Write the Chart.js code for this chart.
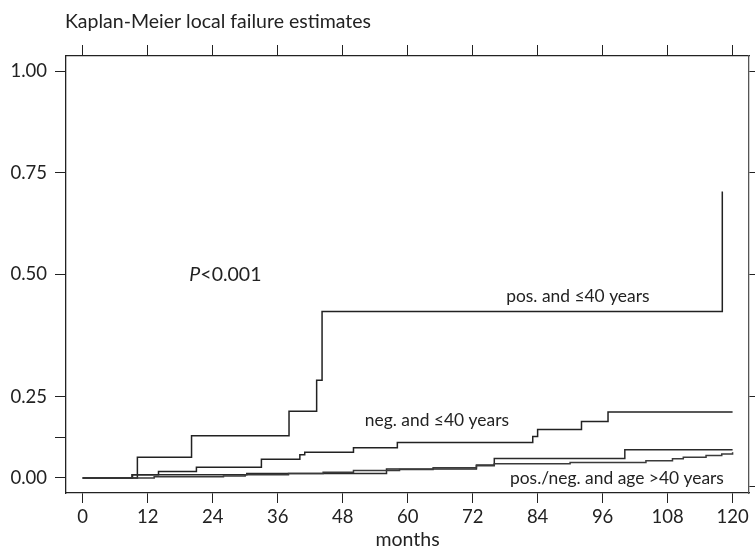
<!DOCTYPE html>
<html>
<head>
<meta charset="utf-8">
<script src="https://cdn.jsdelivr.net/npm/chart.js@4.4.0/dist/chart.umd.min.js"></script>
<style>
  html, body { margin: 0; padding: 0; background: #fff; }
  #wrap { width: 755px; height: 553px; }
</style>
</head>
<body>
<div id="wrap"><canvas id="kmChart" width="755" height="553"></canvas></div>
<script>
'use strict';

let monthTicks = [0, 12, 24, 36, 48, 60, 72, 84, 96, 108, 120];

// left axis ticks as they stand in the figure
let leftTickValues = [0, 0.1, 0.2, 0.5, 0.75, 1.0];
let leftTickLabels = ['0.00', '', '0.25', '0.50', '0.75', '1.00'];
let rightTickValues = [-0.02, 0.2, 0.5, 0.75, 1.0];

// pos. and <=40 years
let posMonths = [0, 10.1, 20.1, 38.1, 43.2, 44.2, 118.1];
let posFailure = [0, 0.051, 0.104, 0.164, 0.240, 0.409, 0.704];

// neg. and <=40 years
let negMonths = [0, 9.1, 14, 21, 33, 40.1, 41, 50, 58.1, 83.1, 84, 92.1, 97, 120];
let negFailure = [0, 0.008, 0.016, 0.026, 0.046, 0.057, 0.063, 0.074, 0.087, 0.102, 0.119, 0.139, 0.162, 0.162];

// pos./neg. and age >40 years (two curves)
let oldAMonths = [0, 9.2, 30.3, 56.1, 72.7, 76, 100.1, 120];
let oldAFailure = [0, 0.008, 0.011, 0.022, 0.032, 0.048, 0.069, 0.069];
let oldBMonths = [0, 13.2, 26, 30, 38, 44.4, 50, 58.5, 64.7, 72.7, 76, 90, 104, 108.9, 110.9, 115.1, 118, 120];
let oldBFailure = [0, 0.003, 0.005, 0.008, 0.011, 0.014, 0.018, 0.021, 0.025, 0.030, 0.035, 0.038, 0.042, 0.047, 0.051, 0.055, 0.059, 0.063];

let notes = [
  { text: 'pos. and \u226440 years', month: 78.2, value: 0.446 },
  { text: 'neg. and \u226440 years', month: 52.1, value: 0.141 },
  { text: 'pos./neg. and age >40 years', month: 78.9, value: -0.002 }
];

function toPoints(months, values) {
  let pts = [];
  for (let i = 0; i < months.length; i++) {
    pts.push({ x: months[i], y: values[i] });
  }
  return pts;
}

function kmSet(months, values, color) {
  return {
    data: toPoints(months, values),
    borderColor: color,
    borderWidth: 1.5,
    stepped: true,
    pointRadius: 0,
    fill: false
  };
}

const ink = '#222';
const fontName = 'Lato, "Open Sans", sans-serif';

let notesPlugin = {
  id: 'notesPlugin',
  afterDraw(chart) {
    let ctx = chart.ctx;
    let xs = chart.scales.x;
    let ys = chart.scales.y;
    ctx.save();
    ctx.fillStyle = ink;
    ctx.textBaseline = 'middle';
    ctx.textAlign = 'left';

    ctx.font = '19.5px ' + fontName;
    ctx.fillText('Kaplan-Meier local failure estimates', 65, 22);

    ctx.font = '17.4px ' + fontName;
    for (let i = 0; i < notes.length; i++) {
      ctx.fillText(notes[i].text, xs.getPixelForValue(notes[i].month), ys.getPixelForValue(notes[i].value));
    }

    // P value, italic P
    let px = xs.getPixelForValue(19.7);
    let py = ys.getPixelForValue(0.499);
    ctx.font = 'italic 19.5px ' + fontName;
    ctx.fillText('P', px, py);
    let w = ctx.measureText('P').width;
    ctx.font = '19.5px ' + fontName;
    ctx.fillText('<0.001', px + w, py);
    ctx.restore();
  }
};

let ctx = document.getElementById('kmChart').getContext('2d');
let chart = new Chart(ctx, {
  type: 'line',
  data: {
    datasets: [
      kmSet(oldBMonths, oldBFailure, '#3a3a3a'),
      kmSet(oldAMonths, oldAFailure, '#2a2a2a'),
      kmSet(negMonths, negFailure, ink),
      kmSet(posMonths, posFailure, ink)
    ]
  },
  options: {
    responsive: false,
    animation: false,
    layout: { padding: 0 },
    plugins: { legend: { display: false }, tooltip: { enabled: false } },
    scales: {
      x: {
        type: 'linear',
        position: 'bottom',
        min: -3.08,
        max: 123.03,
        afterBuildTicks(s) { s.ticks = monthTicks.map(v => ({ value: v })); },
        afterFit(s) { s.height = 60; },
        grid: { drawOnChartArea: false, tickLength: 10, color: ink },
        border: { color: ink, width: 1.3 },
        ticks: { font: { family: fontName, size: 18.5 }, color: ink, padding: 3, maxRotation: 0 },
        title: { display: true, text: 'months', font: { family: fontName, size: 19.5 }, color: ink, padding: { top: 0, bottom: 2 } }
      },
      xTop: {
        type: 'linear',
        position: 'top',
        min: -3.08,
        max: 123.03,
        afterBuildTicks(s) { s.ticks = monthTicks.map(v => ({ value: v })); },
        afterFit(s) { s.height = 56; },
        grid: { drawOnChartArea: false, tickLength: 11, color: ink },
        border: { color: ink, width: 1.3 },
        ticks: { display: false }
      },
      y: {
        type: 'linear',
        position: 'left',
        min: -0.037,
        max: 1.037,
        afterBuildTicks(s) { s.ticks = leftTickValues.map(v => ({ value: v })); },
        afterFit(s) { s.width = 66; },
        grid: { drawOnChartArea: false, tickLength: 11, color: ink },
        border: { color: ink, width: 1.3 },
        ticks: {
          font: { family: fontName, size: 18.5 },
          color: ink,
          padding: 8,
          callback: function (value, index) { return leftTickLabels[index]; }
        }
      },
      yRight: {
        type: 'linear',
        position: 'right',
        min: -0.037,
        max: 1.037,
        afterBuildTicks(s) { s.ticks = rightTickValues.map(v => ({ value: v })); },
        afterFit(s) { s.width = 6; },
        grid: { drawOnChartArea: false, tickLength: 6, color: ink },
        border: { color: '#555', width: 1.3 },
        ticks: { display: false }
      }
    }
  },
  plugins: [notesPlugin]
});
</script>
</body>
</html>
